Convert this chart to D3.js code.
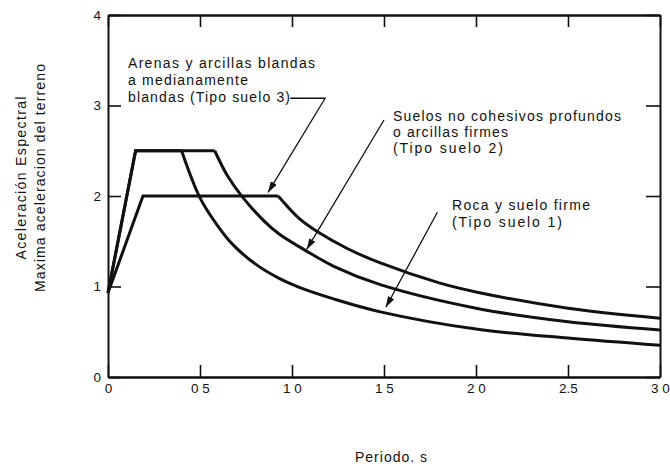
<!DOCTYPE html>
<html lang="es">
<head>
<meta charset="UTF-8">
<title>Espectros de respuesta normalizados</title>
<script src="https://cdn.jsdelivr.net/npm/d3@7"></script>
<style>
  body { margin: 0; background: #fff; }
  text { font-family: "Liberation Sans", Arial, Helvetica, sans-serif; fill: #111; }
</style>
</head>
<body>
<div id="chart"></div>
<script>
// valores (periodo en s, aceleracion espectral / aceleracion maxima)
const suelo1T = [0, 0.15, 0.40, 0.50, 0.60, 0.68, 0.80, 0.93, 1.04, 1.23, 1.48, 2.0, 2.5, 3.0];
const suelo1A = [0.93, 2.5, 2.5, 1.98, 1.66, 1.46, 1.25, 1.09, 0.99, 0.86, 0.72, 0.53, 0.43, 0.35];
const suelo2T = [0, 0.15, 0.58, 0.65, 0.73, 0.85, 0.93, 1.08, 1.23, 1.48, 2.0, 2.5, 3.0];
const suelo2A = [0.93, 2.5, 2.5, 2.22, 1.99, 1.72, 1.58, 1.39, 1.22, 1.02, 0.76, 0.61, 0.52];
const suelo3T = [0, 0.19, 0.925, 1.04, 1.15, 1.30, 1.48, 1.80, 2.0, 2.5, 3.0];
const suelo3A = [0.93, 2.0, 2.0, 1.75, 1.59, 1.42, 1.26, 1.04, 0.94, 0.76, 0.65];
// indice donde termina la meseta y empieza la rama descendente
const finMeseta = [2, 2, 2];

const xTicks = [0, 0.5, 1.0, 1.5, 2.0, 2.5, 3.0];
const xLabels = ["0", "0 5", "1 0", "1 5", "2 0", "2.5", "3 0"];
const yTicks = [0, 1, 2, 3, 4];

const width = 670, height = 467;
const margin = {top: 15, right: 10, bottom: 90, left: 108};

const svg = d3.select("#chart").append("svg")
  .attr("width", width)
  .attr("height", height);

svg.append("rect").attr("width", width).attr("height", height).attr("fill", "#fff");

const x = d3.scaleLinear().domain([0, 3]).range([margin.left, width - margin.right]);
const y = d3.scaleLinear().domain([0, 4]).range([height - margin.bottom, margin.top]);

// flechas
svg.append("defs").append("marker")
  .attr("id", "punta")
  .attr("markerUnits", "userSpaceOnUse")
  .attr("markerWidth", 12).attr("markerHeight", 7)
  .attr("refX", 11).attr("refY", 3.5)
  .attr("orient", "auto")
  .append("path")
  .attr("d", "M0,0 L11,3.5 L0,7 Z")
  .attr("fill", "#111");

// ejes con marcas hacia adentro
const ejeX = svg.append("g")
  .attr("transform", `translate(0,${y(0)})`)
  .call(d3.axisBottom(x).tickValues(xTicks).tickSizeInner(-12).tickSizeOuter(0).tickPadding(6)
    .tickFormat((d, i) => xLabels[i]));
ejeX.select(".domain").attr("stroke-width", 2.6);

const ejeXsup = svg.append("g")
  .attr("transform", `translate(0,${y(4)})`)
  .call(d3.axisTop(x).tickValues(xTicks).tickSizeInner(-12).tickSizeOuter(0).tickFormat(""));
ejeXsup.select(".domain").attr("stroke-width", 2.6);

const ejeY = svg.append("g")
  .attr("transform", `translate(${x(0)},0)`)
  .call(d3.axisLeft(y).tickValues(yTicks).tickSizeInner(-13).tickSizeOuter(0).tickPadding(7)
    .tickFormat(d3.format("d")));
ejeY.select(".domain").attr("stroke-width", 2);

const ejeYder = svg.append("g")
  .attr("transform", `translate(${x(3)},0)`)
  .call(d3.axisRight(y).tickValues(yTicks).tickSizeInner(-14).tickSizeOuter(0).tickFormat(""));
ejeYder.select(".domain").attr("stroke-width", 2);

svg.selectAll(".tick line").attr("stroke", "#111").attr("stroke-width", 1.6);
svg.selectAll(".domain").attr("stroke", "#111");
svg.selectAll(".tick text").attr("font-size", 13.5).attr("font-family", "Liberation Sans, Arial, sans-serif")
  .attr("fill", "#111");

// curvas espectrales
const series = [
  {T: suelo1T, A: suelo1A},
  {T: suelo2T, A: suelo2A},
  {T: suelo3T, A: suelo3A}
];
const recta = d3.line().x(d => x(d[0])).y(d => y(d[1]));
const curva = d3.line().x(d => x(d[0])).y(d => y(d[1])).curve(d3.curveCatmullRom.alpha(0.5));

series.forEach((s, k) => {
  const pts = s.T.map((t, i) => [t, s.A[i]]);
  const corte = finMeseta[k];
  svg.append("path")
    .attr("d", recta(pts.slice(0, corte + 1)))
    .attr("fill", "none").attr("stroke", "#111").attr("stroke-width", 3)
    .attr("stroke-linejoin", "miter");
  svg.append("path")
    .attr("d", curva(pts.slice(corte)))
    .attr("fill", "none").attr("stroke", "#111").attr("stroke-width", 3);
});

// anotaciones
function bloque(lines, tx, by, dy, lens) {
  lines.forEach((t, i) => {
    svg.append("text")
      .attr("x", tx).attr("y", by + i * dy)
      .attr("font-size", 14)
      .attr("textLength", lens[i]).attr("lengthAdjust", "spacing")
      .text(t);
  });
}

bloque(["Arenas y arcillas blandas", "a medianamente", "blandas (Tipo suelo 3)"],
  128, 68, 17, [187, 120, 162]);
bloque(["Suelos no cohesivos profundos", "o arcillas firmes", "(Tipo suelo 2)"],
  393, 121, 16, [228, 115, 110]);
bloque(["Roca y suelo firme", "(Tipo suelo 1)"],
  452, 210, 17, [138, 110]);

function flecha(pts) {
  svg.append("path")
    .attr("d", recta(pts))
    .attr("fill", "none").attr("stroke", "#111").attr("stroke-width", 1.3)
    .attr("marker-end", "url(#punta)");
}
flecha([[0.99, 3.08], [1.18, 3.08], [0.87, 2.04]]);
flecha([[1.50, 2.84], [1.08, 1.41]]);
flecha([[1.79, 1.82], [1.51, 0.77]]);

// titulos de ejes
svg.append("text")
  .attr("x", (x(0) + x(3)) / 2 + 7).attr("y", 462)
  .attr("text-anchor", "middle").attr("font-size", 14)
  .attr("textLength", 72).attr("lengthAdjust", "spacing")
  .text("Periodo. s");

const yt = svg.append("g").attr("transform", "translate(0,178) rotate(-90)");
yt.append("text").attr("x", 0).attr("y", 26)
  .attr("text-anchor", "middle").attr("font-size", 14)
  .attr("textLength", 163).attr("lengthAdjust", "spacing")
  .text("Aceleración Espectral");
yt.append("text").attr("x", 0).attr("y", 45)
  .attr("text-anchor", "middle").attr("font-size", 14)
  .attr("textLength", 228).attr("lengthAdjust", "spacing")
  .text("Maxima aceleracion del terreno");
</script>
</body>
</html>
